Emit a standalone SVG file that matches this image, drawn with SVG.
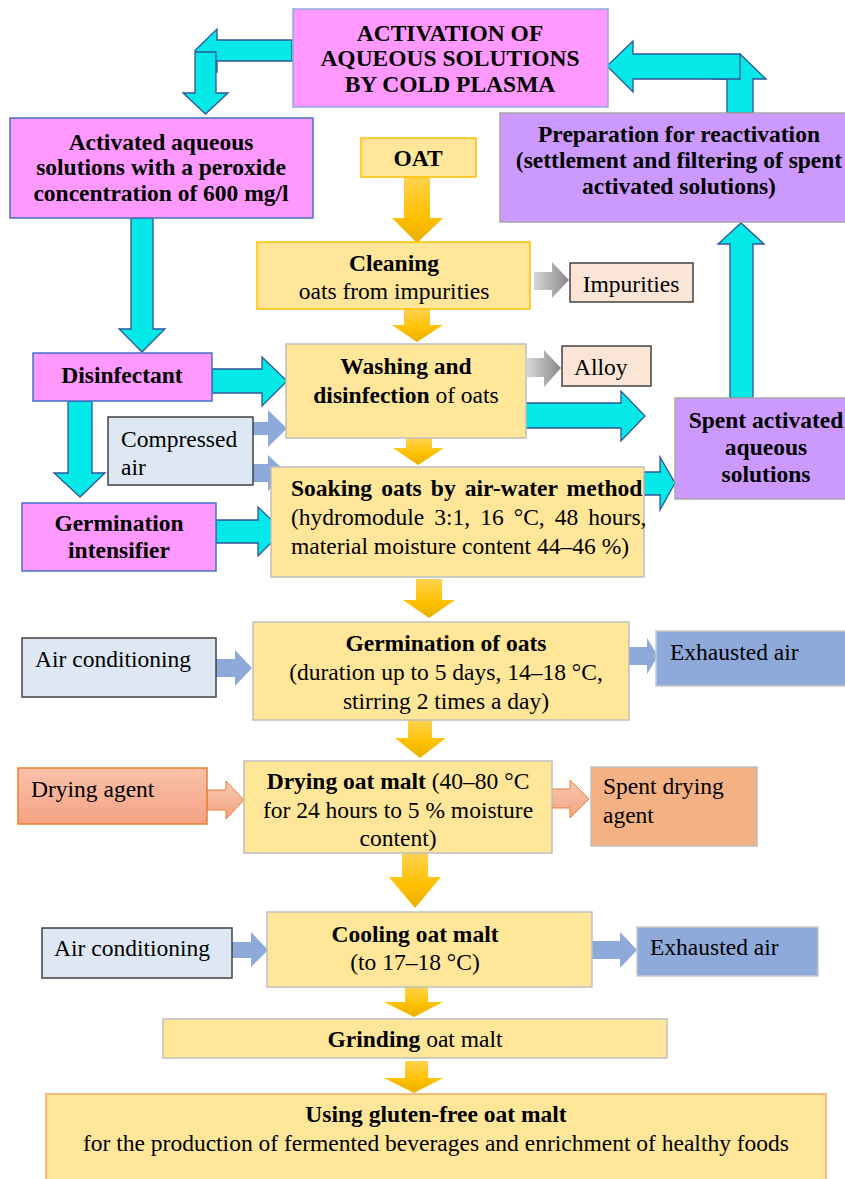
<svg xmlns="http://www.w3.org/2000/svg" width="845" height="1179" viewBox="0 0 845 1179">
<defs>
<linearGradient id="gy" x1="0" y1="0" x2="0" y2="1">
<stop offset="0" stop-color="#ffd34f"/><stop offset="0.6" stop-color="#ffc000"/><stop offset="1" stop-color="#e9ae00"/>
</linearGradient>
<linearGradient id="gg" x1="0" y1="0" x2="1" y2="0">
<stop offset="0" stop-color="#d6d6d6"/><stop offset="1" stop-color="#8a8a8a"/>
</linearGradient>
<linearGradient id="gs" x1="0" y1="0" x2="0" y2="1">
<stop offset="0" stop-color="#f9c9b2"/><stop offset="1" stop-color="#f2a281"/>
</linearGradient>
<linearGradient id="gd" x1="0" y1="0" x2="0" y2="1">
<stop offset="0" stop-color="#f9c2ab"/><stop offset="1" stop-color="#f4a283"/>
</linearGradient>
</defs>
<style>
.t{font-family:"Liberation Serif","Times New Roman",serif;font-size:23.5px;fill:#000}
.b{font-weight:bold}
.c{text-anchor:middle}
.pink{fill:#ff99ff;stroke:#4472c4;stroke-width:1.5}
.lav{fill:#cc99ff;stroke:#a6a6a6;stroke-width:1.5}
.yel{fill:#ffe699;stroke:#bfbfbf;stroke-width:1.5}
.yelg{fill:#ffe699;stroke:#ffc000;stroke-width:1.5}
.peach{fill:#fbe5d6;stroke:#404040;stroke-width:1.5}
.lblue{fill:#dee8f5;stroke:#404040;stroke-width:1.5}
.blue{fill:#8eaadb;stroke:#c9c9c9;stroke-width:1.5}
.cy{fill:#05e8e8;stroke:#2f5597;stroke-width:1.3;stroke-linejoin:miter}
.ya{fill:url(#gy)}
.ga{fill:url(#gg)}
.ba{fill:#8eaadb}
.sa{fill:url(#gs);stroke:#ed7d31;stroke-width:1}
</style>

<g id="connectors">
<path class="cy" d="M292,40 L217,40 L217,29 L195,50.5 L217,72 L217,61 L292,61 Z"/>
<path class="cy" d="M195,52 L216,52 L216,93 L228,93 L205.5,114 L183,93 L195,93 Z"/>
<path class="cy" d="M727,113 L727,79 L714,79 L740,54 L766,79 L753,79 L753,113 Z"/>
<path class="cy" d="M740,54 L633,54 L633,41 L607,66 L633,92 L633,79 L740,79 Z"/>
<path class="cy" d="M131,218 L153,218 L153,329 L165,329 L142,352 L119,329 L131,329 Z"/>
<path class="cy" d="M212,369 L262,369 L262,357 L287,381 L262,406 L262,393 L212,393 Z"/>
<path class="cy" d="M68,401 L92,401 L92,473 L105,473 L80,497 L54,473 L68,473 Z"/>
<path class="cy" d="M216,520 L258,520 L258,507 L283,531 L258,556 L258,543 L216,543 Z"/>
<path class="cy" d="M525,403 L621,403 L621,391 L645,416 L621,441 L621,428 L525,428 Z"/>
<path class="cy" d="M644,472 L660,472 L660,457 L675,483 L660,510 L660,495 L644,495 Z"/>
<path class="cy" d="M730,398 L730,244 L718,244 L741,223 L764,244 L753,244 L753,398 Z"/>

<path class="ya" d="M404,177 L430,177 L430,218 L443,218 L417,243 L392,218 L404,218 Z"/>
<path class="ya" d="M404,309 L430,309 L430,325 L443,325 L417,342 L392,325 L404,325 Z"/>
<path class="ya" d="M406,438 L432,438 L432,448 L444,448 L418,465 L393,448 L406,448 Z"/>
<path class="ya" d="M416,579 L442,579 L442,600 L455,600 L429,618 L403,600 L416,600 Z"/>
<path class="ya" d="M408,720 L432,720 L432,738 L446,738 L420,758 L395,738 L408,738 Z"/>
<path class="ya" d="M402,853 L428,853 L428,877 L441,877 L415,908 L389,877 L402,877 Z"/>
<path class="ya" d="M405,987 L428,987 L428,1002 L443,1002 L414,1017 L384,1002 L405,1002 Z"/>
<path class="ya" d="M405,1061 L428,1061 L428,1078 L443,1078 L414,1093 L384,1078 L405,1078 Z"/>

<path class="ga" d="M534,272 L552,272 L552,262 L569,280 L552,298 L552,290 L534,290 Z"/>
<path class="ga" d="M527,358 L544,358 L544,350 L561,368 L544,387 L544,377 L527,377 Z"/>

<path class="ba" d="M249,422 L268,422 L268,410 L287,428.5 L268,447 L268,435 L249,435 Z"/>
<path class="ba" d="M249,464 L268,464 L268,455 L287,473 L268,491 L268,482 L249,482 Z"/>
<path class="ba" d="M216,659 L235,659 L235,650 L252,668 L235,686 L235,677 L216,677 Z"/>
<path class="ba" d="M629,647 L647,647 L647,638 L658,656 L647,674 L647,665 L629,665 Z"/>
<path class="ba" d="M232,942 L251,942 L251,932 L268,950 L251,967 L251,958 L232,958 Z"/>
<path class="ba" d="M592,941 L620,941 L620,932 L637,950 L620,968 L620,959 L592,959 Z"/>

<path class="sa" d="M207,790 L226,790 L226,781 L244,800 L226,819 L226,810 L207,810 Z"/>
<path class="sa" d="M552,789 L570,789 L570,780 L589,799 L570,818 L570,808 L552,808 Z"/>
</g>

<g id="activation">
<rect x="293" y="9" width="315" height="98" fill="#ff99ff" stroke="#8eaadb" stroke-width="1.5"/>
<text class="t b c" x="450" y="41">ACTIVATION OF</text>
<text class="t b c" x="450" y="66">AQUEOUS SOLUTIONS</text>
<text class="t b c" x="450" y="92">BY COLD PLASMA</text>
</g>

<g id="activated">
<rect class="pink" x="10" y="118" width="303" height="100" stroke="#5b9bd5"/>
<text class="t b c" x="161" y="150">Activated aqueous</text>
<text class="t b c" x="161" y="175">solutions with a peroxide</text>
<text class="t b c" x="161" y="201">concentration of 600 mg/l</text>
</g>

<g id="preparation">
<rect class="lav" x="500" y="113" width="350" height="109"/>
<text class="t b c" x="679" y="142">Preparation for reactivation</text>
<text class="t b c" x="679" y="168">(settlement and filtering of spent</text>
<text class="t b c" x="679" y="194">activated solutions)</text>
</g>

<g id="oat">
<rect class="yelg" x="361" y="138" width="115" height="39"/>
<text class="t b c" x="418" y="166">OAT</text>
</g>

<g id="cleaning">
<rect class="yelg" x="257" y="242" width="273" height="67"/>
<text class="t b c" x="394" y="271">Cleaning</text>
<text class="t c" x="394" y="299">oats from impurities</text>
</g>

<g id="impurities">
<rect class="peach" x="570" y="263" width="123" height="39"/>
<text class="t c" x="631" y="292">Impurities</text>
</g>

<g id="washing">
<rect class="yel" x="286" y="344" width="240" height="94"/>
<text class="t b c" x="406" y="374">Washing and</text>
<text class="t c" x="406" y="403"><tspan class="b">disinfection</tspan> of oats</text>
</g>

<g id="alloy">
<rect class="peach" x="562" y="346" width="89" height="40"/>
<text class="t" x="574" y="375">Alloy</text>
</g>

<g id="disinfectant">
<rect class="pink" x="33" y="353" width="179" height="48"/>
<text class="t b c" x="122" y="383">Disinfectant</text>
</g>

<g id="compressed-air">
<rect class="lblue" x="108" y="417" width="145" height="68"/>
<text class="t" x="121" y="447">Compressed</text>
<text class="t" x="121" y="475">air</text>
</g>

<g id="spent-activated">
<rect class="lav" x="675" y="398" width="175" height="101"/>
<text class="t b c" x="766" y="428">Spent activated</text>
<text class="t b c" x="766" y="455">aqueous</text>
<text class="t b c" x="766" y="482">solutions</text>
</g>

<g id="germination-intensifier">
<rect class="pink" x="22" y="503" width="194" height="68"/>
<text class="t b c" x="119" y="531">Germination</text>
<text class="t b c" x="119" y="558">intensifier</text>
</g>

<g id="soaking">
<rect class="yel" x="271" y="467" width="373" height="110"/>
<text class="t b" x="291" y="496" word-spacing="3.3">Soaking oats by air-water method</text>
<text class="t" x="291" y="525" word-spacing="4.2">(hydromodule 3:1, 16 °C, 48 hours,</text>
<text class="t" x="291" y="554">material moisture content 44–46 %)</text>
</g>

<g id="germination">
<rect class="yel" x="253" y="622" width="376" height="98"/>
<text class="t b c" x="446" y="651">Germination of oats</text>
<text class="t c" x="446" y="680">(duration up to 5 days, 14–18 °C,</text>
<text class="t c" x="446" y="709">stirring 2 times a day)</text>
</g>

<g id="air-conditioning-1">
<rect class="lblue" x="22" y="638" width="194" height="59"/>
<text class="t" x="35" y="667">Air conditioning</text>
</g>

<g id="exhausted-air-1">
<rect class="blue" x="656" y="631" width="190" height="55"/>
<text class="t" x="670" y="660">Exhausted air</text>
</g>

<g id="drying">
<rect class="yel" x="244" y="761" width="308" height="92"/>
<text class="t c" x="398" y="789"><tspan class="b">Drying oat malt</tspan> (40–80 °C</text>
<text class="t c" x="398" y="818">for 24 hours to 5 % moisture</text>
<text class="t c" x="398" y="846">content)</text>
</g>

<g id="drying-agent">
<rect x="18" y="768" width="189" height="56" fill="url(#gd)" stroke="#ed7d31" stroke-width="1.5"/>
<text class="t" x="31" y="797">Drying agent</text>
</g>

<g id="spent-drying-agent">
<rect x="591" y="767" width="166" height="79" fill="#f4b183" stroke="#bfbfbf" stroke-width="1.5"/>
<text class="t" x="603" y="794">Spent drying</text>
<text class="t" x="603" y="823">agent</text>
</g>

<g id="cooling">
<rect class="yel" x="267" y="912" width="325" height="75"/>
<text class="t b c" x="415" y="942">Cooling oat malt</text>
<text class="t c" x="415" y="970">(to 17–18 °C)</text>
</g>

<g id="air-conditioning-2">
<rect class="lblue" x="42" y="928" width="190" height="50"/>
<text class="t" x="54" y="956">Air conditioning</text>
</g>

<g id="exhausted-air-2">
<rect class="blue" x="637" y="927" width="181" height="49"/>
<text class="t" x="650" y="955">Exhausted air</text>
</g>

<g id="grinding">
<rect class="yel" x="163" y="1019" width="504" height="39"/>
<text class="t c" x="415" y="1047"><tspan class="b">Grinding</tspan> oat malt</text>
</g>

<g id="using">
<rect x="46" y="1094" width="780" height="95" fill="#ffe699" stroke="#f8a860" stroke-width="1.5"/>
<text class="t b c" x="436" y="1122">Using gluten-free oat malt</text>
<text class="t c" x="436" y="1151">for the production of fermented beverages and enrichment of healthy foods</text>
</g>
</svg>
